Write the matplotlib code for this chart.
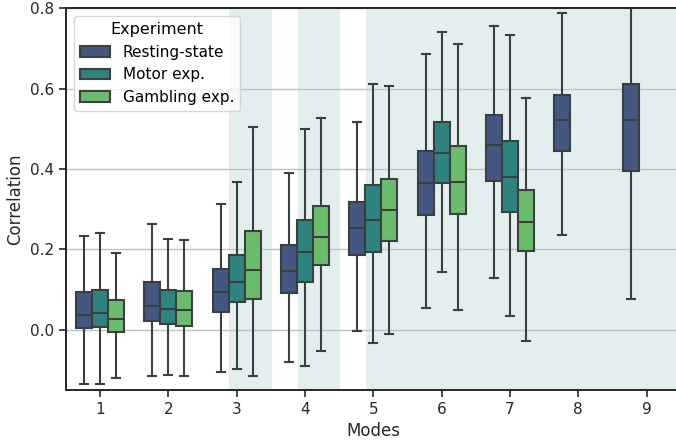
import colorsys
import numpy as np
import matplotlib.pyplot as plt
from matplotlib.patches import Patch

# Box statistics per mode: whisker low, q1, median, q3, whisker high
modes = ['1', '2', '3', '4', '5', '6', '7', '8', '9']
experiments = ['Resting-state', 'Motor exp.', 'Gambling exp.']

rest_lo = [-0.135, -0.116, -0.105, -0.080, -0.004, 0.053, 0.130, 0.237, 0.077]
rest_q1 = [0.004, 0.022, 0.044, 0.092, 0.186, 0.286, 0.371, 0.445, 0.396]
rest_med = [0.036, 0.060, 0.093, 0.146, 0.253, 0.366, 0.459, 0.523, 0.521]
rest_q3 = [0.095, 0.118, 0.150, 0.210, 0.318, 0.446, 0.534, 0.584, 0.611]
rest_hi = [0.234, 0.263, 0.312, 0.390, 0.518, 0.687, 0.757, 0.789, 0.850]

motor_lo = [-0.134, -0.112, -0.098, -0.090, -0.034, 0.143, 0.035]
motor_q1 = [0.006, 0.015, 0.068, 0.120, 0.194, 0.366, 0.294]
motor_med = [0.041, 0.051, 0.119, 0.194, 0.274, 0.441, 0.381]
motor_q3 = [0.100, 0.099, 0.186, 0.273, 0.361, 0.516, 0.471]
motor_hi = [0.241, 0.226, 0.367, 0.500, 0.612, 0.741, 0.734]

gamb_lo = [-0.119, -0.116, -0.114, -0.053, -0.010, 0.050, -0.027]
gamb_q1 = [-0.005, 0.010, 0.076, 0.162, 0.220, 0.288, 0.196]
gamb_med = [0.026, 0.049, 0.149, 0.232, 0.299, 0.368, 0.268]
gamb_q3 = [0.073, 0.096, 0.247, 0.307, 0.375, 0.457, 0.347]
gamb_hi = [0.190, 0.224, 0.505, 0.528, 0.606, 0.712, 0.576]

# highlighted mode ranges (in category index units)
spans = [(1.893, 2.514), (2.894, 3.514), (3.894, 8.6)]

series = [
    (rest_lo, rest_q1, rest_med, rest_q3, rest_hi),
    (motor_lo, motor_q1, motor_med, motor_q3, motor_hi),
    (gamb_lo, gamb_q1, gamb_med, gamb_q3, gamb_hi),
]


def desaturate(c, prop):
    h, l, s = colorsys.rgb_to_hls(*c[:3])
    return colorsys.hls_to_rgb(h, l, s * prop)


cmap = plt.get_cmap('viridis')
colors = [desaturate(cmap(v), 0.75) for v in (0.25, 0.5, 0.75)]
edge = '#3b3f3f'

fig = plt.figure(figsize=(6.76, 4.4), dpi=100)
ax = fig.add_axes([0.0976, 0.1136, 0.9093, 0.8675])

for a, b in spans:
    ax.axvspan(a, b, color='#e3efef', lw=0, zorder=0)

width = 0.234
offsets = [-width, 0, width]
for k, (lo, q1, med, q3, hi) in enumerate(series):
    stats = []
    for i in range(len(lo)):
        stats.append({'whislo': lo[i], 'q1': q1[i], 'med': med[i],
                      'q3': q3[i], 'whishi': hi[i], 'fliers': []})
    pos = np.arange(len(lo)) + offsets[k]
    ax.bxp(stats, positions=pos, widths=width, patch_artist=True,
           showfliers=False, manage_ticks=False,
           boxprops=dict(facecolor=colors[k], edgecolor=edge, lw=1.5),
           medianprops=dict(color=edge, lw=1.5),
           whiskerprops=dict(color=edge, lw=1.5),
           capprops=dict(color=edge, lw=1.5))

ax.set_xlim(-0.5, 8.5)
ax.set_ylim(-0.15, 0.8)
ax.set_xticks(np.arange(len(modes)))
ax.set_xticklabels(modes)
ax.set_yticks([0.0, 0.2, 0.4, 0.6, 0.8])
ax.set_yticklabels(['0.0', '0.2', '0.4', '0.6', '0.8'])
ax.yaxis.grid(True, color='#bcc3c3', lw=1, zorder=0.5)
ax.set_axisbelow(True)
ax.tick_params(labelsize=11, length=5, width=1.2, color='#262626', labelcolor='#262626')
for s in ax.spines.values():
    s.set_linewidth(1.4)
    s.set_color('#262626')

ax.set_xlabel('Modes', fontsize=12, color='#262626')
ax.set_ylabel('Correlation', fontsize=12, color='#262626')

handles = [Patch(facecolor=c, edgecolor=edge, lw=1.5) for c in colors]
ax.legend(handles, experiments, title='Experiment', loc='upper left',
          fontsize=11, title_fontsize=11.5)

fig.savefig('out.png', dpi=100)
